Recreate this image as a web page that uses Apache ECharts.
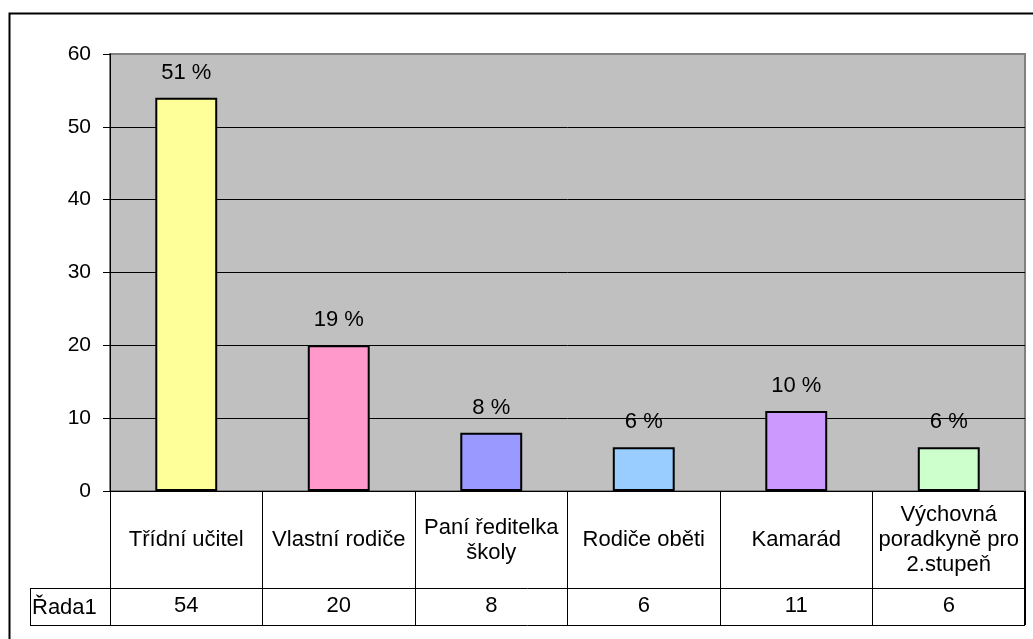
<!DOCTYPE html>
<html>
<head>
<meta charset="utf-8">
<script src="https://cdn.jsdelivr.net/npm/echarts@6/dist/echarts.min.js"></script>
<style>
  html, body { margin: 0; padding: 0; background: #fff; }
  #chart { width: 1033px; height: 639px; }
</style>
</head>
<body>
<div id="chart"></div>
<script>
  const categories = ['Třídní učitel', 'Vlastní rodiče', 'Paní ředitelka\nškoly', 'Rodiče oběti', 'Kamarád', 'Výchovná\nporadkyně pro\n2.stupeň'];
  const values = [54, 20, 8, 6, 11, 6];
  const percents = [51, 19, 8, 6, 10, 6];
  const colors = ['#ffff99', '#ff99cc', '#9999ff', '#99ccff', '#cc99ff', '#ccffcc'];
  const seriesName = 'Řada1';
  const yTicks = [0, 10, 20, 30, 40, 50, 60];

  const font = 'Arial, "Liberation Sans", sans-serif';
  const grid = { left: 110, top: 54, right: 8, bottom: 148 };

  const chart = echarts.init(document.getElementById('chart'));

  const option = {
    animation: false,
    textStyle: { fontFamily: font },
    grid: {
      left: grid.left, top: grid.top, right: grid.right, bottom: grid.bottom,
      show: true,
      backgroundColor: '#c0c0c0',
      borderColor: '#808080',
      borderWidth: 2
    },
    xAxis: [
      {
        type: 'category',
        data: categories,
        position: 'bottom',
        axisLine: { show: true, lineStyle: { color: '#000', width: 1 } },
        axisTick: { show: true, length: 134, lineStyle: { color: '#000', width: 1 } },
        axisLabel: {
          color: '#000', fontSize: 22, lineHeight: 25, fontFamily: font,
          margin: 49, verticalAlign: 'middle', align: 'center', interval: 0
        },
        splitLine: { show: false }
      },
      {
        type: 'category',
        data: categories,
        position: 'bottom',
        axisLine: { show: false },
        axisTick: { show: false },
        axisLabel: {
          color: '#000', fontSize: 22, fontFamily: font, margin: 115, verticalAlign: 'middle', interval: 0,
          formatter: (v, i) => String(values[i])
        }
      }
    ],
    yAxis: {
      type: 'value',
      min: yTicks[0],
      max: yTicks[yTicks.length - 1],
      interval: 10,
      axisLine: { show: true, lineStyle: { color: '#000', width: 1 } },
      axisTick: { show: true, length: 7, lineStyle: { color: '#000' } },
      axisLabel: { color: '#000', fontSize: 21, fontFamily: font, margin: 19 },
      splitLine: { show: true, showMaxLine: false, lineStyle: { color: '#000', width: 1 } }
    },
    series: [{
      name: seriesName,
      type: 'bar',
      barWidth: '40.6%',
      data: values.map((v, i) => ({ value: v, itemStyle: { color: colors[i] } })),
      itemStyle: { borderColor: '#000', borderWidth: 2 },
      label: {
        show: true,
        position: 'top',
        distance: 14,
        color: '#000',
        fontSize: 22,
        fontFamily: font,
        formatter: p => percents[p.dataIndex] + ' %'
      }
    }]
  };

  chart.setOption(option);

  // data table lines and frame, placed from the grid
  const x1 = 1033 - grid.right;
  const yZero = chart.convertToPixel({ yAxisIndex: 0 }, 0);
  const rowTop = yZero + 97, rowBot = yZero + 134;
  const tableLeft = 30;
  chart.setOption({
    graphic: [
      { type: 'rect', shape: { x: 9.5, y: 13.5, width: 1040, height: 640 }, style: { fill: 'none', stroke: '#000', lineWidth: 2 }, silent: true },
      { type: 'line', shape: { x1: tableLeft, y1: rowTop + 0.5, x2: x1, y2: rowTop + 0.5 }, style: { stroke: '#000', lineWidth: 1 } },
      { type: 'line', shape: { x1: tableLeft, y1: rowBot + 0.5, x2: x1, y2: rowBot + 0.5 }, style: { stroke: '#000', lineWidth: 1 } },
      { type: 'line', shape: { x1: tableLeft + 0.5, y1: rowTop, x2: tableLeft + 0.5, y2: rowBot }, style: { stroke: '#000', lineWidth: 1 } },
      { type: 'line', shape: { x1: x1 - 0.5, y1: yZero, x2: x1 - 0.5, y2: rowBot }, style: { stroke: '#000', lineWidth: 1 } },
      { type: 'text', x: tableLeft + 2, y: (rowTop + rowBot) / 2 + 1, style: { text: seriesName, font: '22px ' + font, fill: '#000', textVerticalAlign: 'middle' } }
    ]
  });
</script>
</body>
</html>
